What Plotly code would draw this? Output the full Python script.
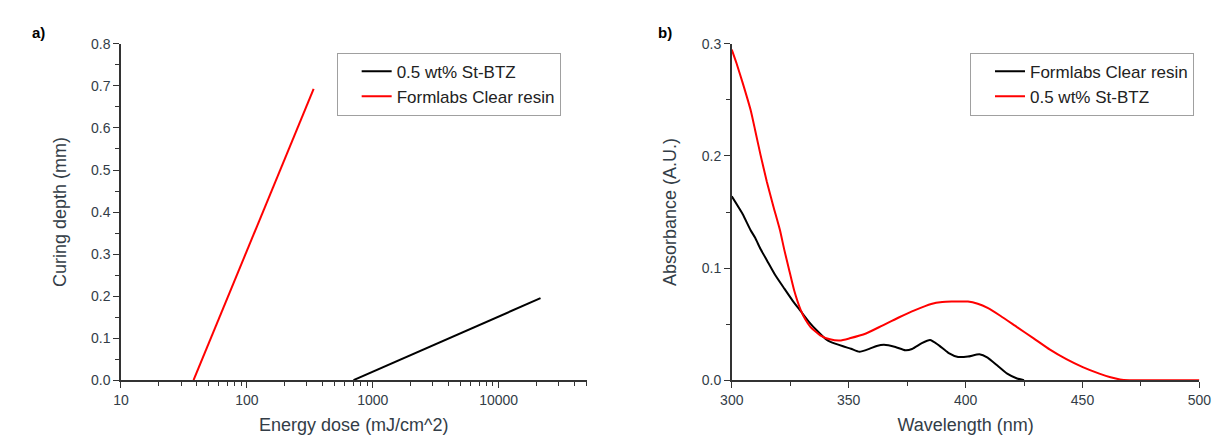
import numpy as np
import plotly.graph_objects as go

# ---- Panel a) curing depth vs energy dose ----
stbtz_dose = [703, 21500]
stbtz_depth = [0.0, 0.195]
formlabs_dose = [37.7, 339]
formlabs_depth = [0.0, 0.693]

# ---- Panel b) absorbance spectra ----
clear_wl = [300, 304.7, 308, 310, 312.3, 315, 318.5, 322.5, 326, 329.5, 333, 336.5, 340, 342,
            347.6, 351, 354.6, 358.8, 362, 365.1, 370, 374.2, 377.1, 381.3, 384.8, 388.3,
            392.6, 396.8, 401, 405.9, 409.4, 413.6, 417.8, 422, 425]
clear_abs = [0.164, 0.148, 0.134, 0.127, 0.117, 0.107, 0.094, 0.0816, 0.071, 0.0615, 0.052,
             0.044, 0.037, 0.0344, 0.0302, 0.028, 0.0253, 0.0279, 0.0305, 0.0316, 0.0296,
             0.0267, 0.0278, 0.033, 0.0358, 0.0315, 0.0244, 0.0207, 0.021, 0.023, 0.0201,
             0.013, 0.0058, 0.0015, 0.0]

btz_wl = [300, 302, 304.7, 308.2, 310, 312.3, 315, 317.8, 320.6, 322.5, 324.7, 326.7, 329.5,
          331.5, 333.7, 337.8, 342, 346.2, 350.4, 357.4, 364.4, 371.4, 378.4, 385.3, 390,
          394, 401, 405.2, 409.4, 415, 422, 429.1, 436.1, 443.1, 450.1, 457.2, 462, 466,
          470, 480, 490, 500]
btz_abs = [0.295, 0.283, 0.265, 0.240, 0.223, 0.201, 0.177, 0.155, 0.134, 0.116, 0.097,
           0.080, 0.0625, 0.054, 0.0473, 0.040, 0.0364, 0.0353, 0.0373, 0.0416, 0.0487,
           0.0559, 0.0625, 0.068, 0.0697, 0.0701, 0.0701, 0.0681, 0.0644, 0.0572, 0.0473,
           0.0373, 0.0272, 0.0187, 0.0116, 0.0058, 0.0025, 0.0006, 0.0, 0.0, 0.0, 0.0]

FONT = "Arial, Liberation Sans, sans-serif"
AX = "#333333"
TXT = "#333d47"

fig = go.Figure()
fig.add_trace(go.Scatter(x=stbtz_dose, y=stbtz_depth, mode="lines", name="0.5 wt% St-BTZ",
                         line=dict(color="black", width=2), xaxis="x", yaxis="y", legend="legend"))
fig.add_trace(go.Scatter(x=formlabs_dose, y=formlabs_depth, mode="lines", name="Formlabs Clear resin",
                         line=dict(color="#ff0000", width=2), xaxis="x", yaxis="y", legend="legend"))
fig.add_trace(go.Scatter(x=clear_wl, y=clear_abs, mode="lines", name="Formlabs Clear resin",
                         line=dict(color="black", width=2, shape="spline", smoothing=0.5),
                         xaxis="x2", yaxis="y2", legend="legend2"))
fig.add_trace(go.Scatter(x=btz_wl, y=btz_abs, mode="lines", name="0.5 wt% St-BTZ",
                         line=dict(color="#ff0000", width=2, shape="spline", smoothing=0.5),
                         xaxis="x2", yaxis="y2", legend="legend2"))

minor_log = [m * 10 ** e for e in range(1, 5) for m in range(2, 10)]

common = dict(showline=True, linecolor=AX, linewidth=1.5, ticks="outside", ticklen=6,
              tickcolor=AX, showgrid=False, zeroline=False,
              tickfont=dict(family=FONT, size=14, color=TXT),
              title_font=dict(family=FONT, size=18, color=TXT))

ydom = [58 / 436, 407 / 436]
legend_common = dict(xanchor="left", yanchor="top", bordercolor="#a0a0a0", borderwidth=1,
                     bgcolor="white", font=dict(family=FONT, size=17, color="#222222"),
                     indentation=19, tracegroupgap=0)
fig.update_layout(
    width=1224, height=436, margin=dict(l=0, r=0, t=0, b=0),
    paper_bgcolor="white", plot_bgcolor="white",
    font=dict(family=FONT, color=TXT),
    xaxis=dict(domain=[103 / 1224, 578 / 1224], type="log", range=[1, np.log10(50000)],
               tickvals=[10, 100, 1000, 10000], ticktext=["10", "100", "1000", "10000"],
               minor=dict(ticks="outside", ticklen=4, tickcolor=AX, tickvals=minor_log),
               title=dict(text="Energy dose (mJ/cm^2)", standoff=12), anchor="y", **common),
    yaxis=dict(domain=ydom, range=[0, 0.8], dtick=0.1, tickformat=".1f",
               minor=dict(ticks="outside", ticklen=4, tickcolor=AX, dtick=0.05),
               title=dict(text="Curing depth (mm)", standoff=20), anchor="x", **common),
    xaxis2=dict(domain=[726 / 1224, 1203 / 1224], range=[300, 500], dtick=50,
                minor=dict(ticks="outside", ticklen=4, tickcolor=AX, dtick=25),
                title=dict(text="Wavelength (nm)", standoff=12), anchor="y2", **common),
    yaxis2=dict(domain=ydom, range=[0, 0.3], dtick=0.1, tickformat=".1f",
                minor=dict(ticks="outside", ticklen=4, tickcolor=AX, dtick=0.05),
                title=dict(text="Absorbance (A.U.)", standoff=20), anchor="x2", **common),
    legend=dict(x=323 / 1224, y=(436 - 38) / 436, **legend_common),
    legend2=dict(x=969 / 1224, y=(436 - 38) / 436, **legend_common),
    showlegend=True,
    annotations=[
        dict(text="<b>a)</b>", x=10 / 1224, y=(436 - 17) / 436, xref="paper", yref="paper",
             xanchor="left", yanchor="middle", showarrow=False,
             font=dict(family=FONT, size=15, color="black")),
        dict(text="<b>b)</b>", x=649 / 1224, y=(436 - 17) / 436, xref="paper", yref="paper",
             xanchor="left", yanchor="middle", showarrow=False,
             font=dict(family=FONT, size=15, color="black")),
    ],
)

fig.write_html("out.html")
